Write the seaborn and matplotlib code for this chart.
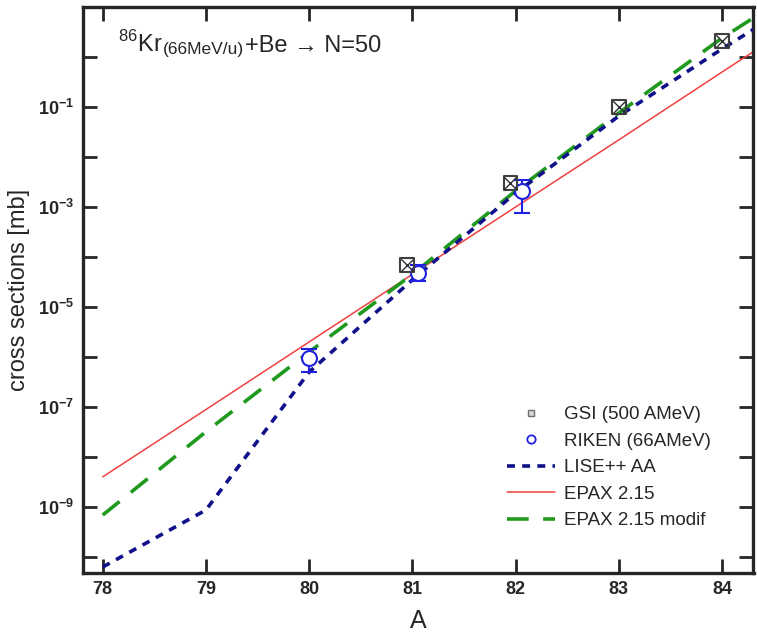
import numpy as np
import pandas as pd
import matplotlib
matplotlib.use("Agg")
import matplotlib.pyplot as plt
import seaborn as sns
from matplotlib.lines import Line2D
from matplotlib.transforms import offset_copy

# ---- data ----
A_model = [78, 79, 80, 81, 82, 83, 84, 85]
lise_aa = [6.3e-11, 8.7e-10, 5.0e-7, 3.5e-5, 1.9e-3, 6.6e-2, 1.45, 28.0]
epax215 = [4.0e-9, 8.9e-8, 2.0e-6, 4.5e-5, 1.0e-3, 2.2e-2, 0.5, 11.0]
epax215_modif = [6.9e-10, 3.2e-8, 1.26e-6, 4.5e-5, 2.1e-3, 7.6e-2, 2.4, 50.0]

A_gsi = [80.95, 81.95, 83.0, 84.0]
sigma_gsi = [6.9e-5, 3.0e-3, 0.1, 2.1]

A_riken = [80.0, 81.05, 82.06]
sigma_riken = [9.5e-7, 4.8e-5, 2.1e-3]
riken_lo = [5.0e-7, 3.3e-5, 7.6e-4]
riken_hi = [1.45e-6, 6.9e-5, 3.5e-3]

x_ticks = [78, 79, 80, 81, 82, 83, 84]
y_tick_exp = [-10, -9, -8, -7, -6, -5, -4, -3, -2, -1, 0]
y_label_exp = [-9, -7, -5, -3, -1]

sns.set_style("ticks")
plt.rcParams["font.family"] = ["Liberation Sans", "DejaVu Sans"]
plt.rcParams["mathtext.fontset"] = "custom"
plt.rcParams["mathtext.rm"] = "Liberation Sans"
plt.rcParams["mathtext.bf"] = "Liberation Sans:bold"

fig = plt.figure(figsize=(7.57, 6.34), dpi=100)
ax = fig.add_axes([82.7 / 757, 1 - 573 / 634, (753.5 - 82.7) / 757, (573 - 7) / 634])

models = pd.DataFrame({"A": A_model, "lise": lise_aa, "epax": epax215, "modif": epax215_modif})

sns.lineplot(data=models, x="A", y="epax", ax=ax, color="#f04040", lw=1.1, zorder=2)
sns.lineplot(data=models, x="A", y="modif", ax=ax, color="#1f9a1f", lw=2.6, zorder=3)
ax.lines[-1].set_dashes([6, 4])
sns.lineplot(data=models, x="A", y="lise", ax=ax, color="#10108a", lw=2.6, zorder=4)
ax.lines[-1].set_dashes([2.2, 2.0])

# RIKEN error bars + circles
r = np.array(sigma_riken)
ax.errorbar(A_riken, sigma_riken,
            yerr=[r - np.array(riken_lo), np.array(riken_hi) - r],
            fmt="none", ecolor="#2020e0", elinewidth=1.5, capsize=6, capthick=1.5, zorder=5)
gsi_df = pd.DataFrame({"A": A_gsi, "s": sigma_gsi})
rik_df = pd.DataFrame({"A": A_riken, "s": sigma_riken})
sns.scatterplot(data=rik_df, x="A", y="s", ax=ax, marker="o", s=115,
                facecolor="white", edgecolor="#2020e0", linewidth=1.5, zorder=6)
sns.scatterplot(data=gsi_df, x="A", y="s", ax=ax, marker="s", s=95,
                facecolor="none", edgecolor="#404040", linewidth=1.5, zorder=7)
sns.scatterplot(data=gsi_df, x="A", y="s", ax=ax, marker="x", s=80,
                color="#303030", linewidth=1.0, zorder=8)

ax.set_yscale("log")
ax.set_xlim(77.806, 84.305)
ax.set_ylim(10 ** -10.32, 10 ** 1)

ax.set_xticks(x_ticks)
ax.set_xticklabels([str(v) for v in x_ticks], fontsize=13, fontweight="bold")
ax.set_yticks([10.0 ** e for e in y_tick_exp])
ax.set_yticklabels([(r"$\mathbf{10^{%d}}$" % e) if e in y_label_exp else "" for e in y_tick_exp],
                   fontsize=13)
ax.yaxis.set_minor_locator(matplotlib.ticker.NullLocator())
ax.tick_params(which="major", direction="in", length=10, width=2,
               top=True, right=True, pad=6)
for sp in ax.spines.values():
    sp.set_linewidth(2.4)
    sp.set_visible(True)

ax.set_xlabel("A", fontsize=18, labelpad=8)
ax.set_ylabel("cross sections [mb]", fontsize=17, labelpad=6)

# title inside the axes, built from consecutive pieces
fig.canvas.draw()
renderer = fig.canvas.get_renderer()
pieces = [(r"$^{86}$Kr", 17, 0), ("(66MeV/u)", 12.5, -2), ("+Be \u2192 N=50", 17, 0)]
x0 = 118.0  # pixels from figure left
ybase = 634 - 52.0
for txt, fs, dy in pieces:
    t = fig.text(x0 / 757, (ybase + dy) / 634, txt, fontsize=fs, ha="left", va="baseline")
    bb = t.get_window_extent(renderer)
    x0 = bb.x1 + 0.5

handles = [
    Line2D([], [], ls="none", marker="s", ms=5, mfc="#d8d8d8", mec="#707070", mew=1),
    Line2D([], [], ls="none", marker="o", ms=6, mfc="white", mec="#2020e0", mew=1.3),
    Line2D([], [], color="#10108a", lw=2.6, dashes=[2.2, 2.0]),
    Line2D([], [], color="#f04040", lw=1.1),
    Line2D([], [], color="#1f9a1f", lw=2.6, dashes=[6, 4]),
]
labels = ["GSI (500 AMeV)", "RIKEN (66AMeV)", "LISE++ AA", "EPAX 2.15", "EPAX 2.15 modif"]
ax.legend(handles, labels, loc="upper left", bbox_to_anchor=(0.633, 0.295), frameon=False,
          fontsize=13.5, handlelength=2.55, handletextpad=0.45, labelspacing=0.5, borderpad=0,
          borderaxespad=0)

fig.savefig("out.png", dpi=100)
